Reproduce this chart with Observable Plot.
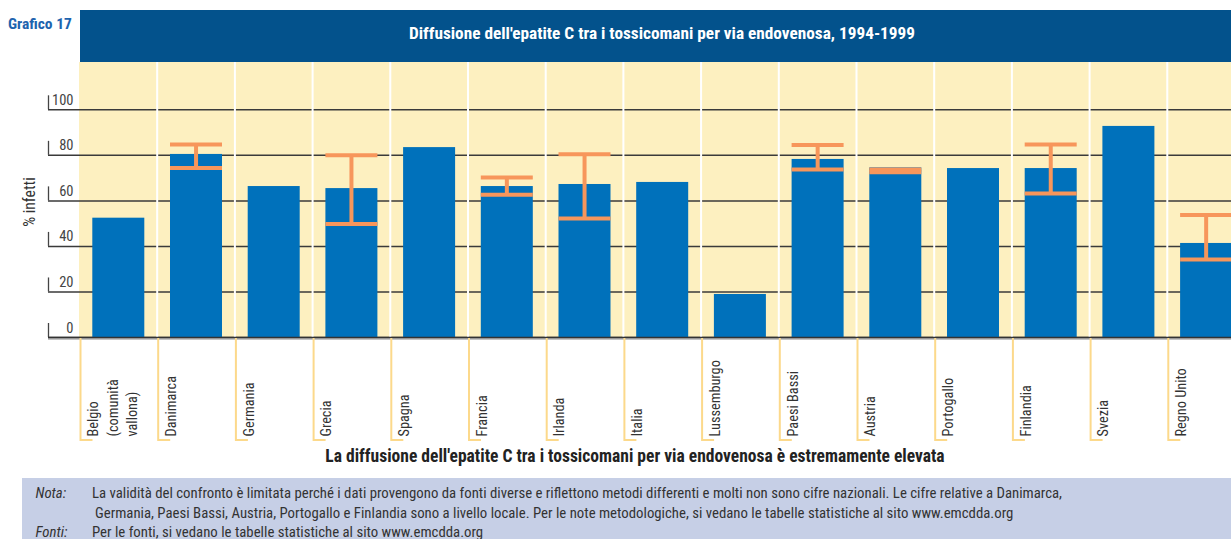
<!DOCTYPE html>
<html><head><meta charset="utf-8">
<script src="https://cdn.jsdelivr.net/npm/d3@7"></script>
<script src="https://cdn.jsdelivr.net/npm/@observablehq/plot@0.6"></script>
<style>
html,body{margin:0;padding:0;background:#fff;}
body{width:1231px;height:539px;overflow:hidden;position:relative;font-family:"Roboto Condensed","Liberation Sans",sans-serif;}
#tag{position:absolute;left:8px;top:15.5px;font-weight:bold;font-size:16px;line-height:16px;color:#1d63ae;white-space:nowrap;}
#band{position:absolute;left:80px;top:10px;width:1164px;height:52px;background:#03528c;color:#fff;font-weight:bold;text-align:center;line-height:47px;}
#band span{font-size:17px;white-space:nowrap;}
#chart{position:absolute;left:0;top:62px;}
#chart svg, #chart svg text{font-family:"Roboto Condensed","Liberation Sans",sans-serif !important;}
#ylab{position:absolute;left:30px;top:202px;transform:translate(-50%,-50%) rotate(-90deg);line-height:18px;color:#333;white-space:nowrap;}
#ylab span{font-size:16px;}
#xtitle{position:absolute;left:0;width:1270px;top:447px;text-align:center;font-weight:bold;line-height:18px;color:#222;}
#xtitle span{font-size:17px;white-space:nowrap;}
#note{position:absolute;left:22px;top:478px;width:1209px;height:61px;background:#c6cfe6;color:#333;padding-top:6px;box-sizing:border-box;font-size:15px;}
.row{position:relative;height:19.5px;line-height:19.5px;}
.lab{position:absolute;left:13.5px;font-style:italic;}
.txt{position:absolute;left:70px;white-space:nowrap;}
</style>
</head>
<body>
<div id="tag"><span id="tagt">Grafico 17</span></div>
<div id="band"><span id="titlet">Diffusione dell'epatite C tra i tossicomani per via endovenosa, 1994-1999</span></div>
<div id="chart"></div>
<div id="ylab"><span id="ylabt">% infetti</span></div>
<div id="xtitle"><span id="xtitlet">La diffusione dell'epatite C tra i tossicomani per via endovenosa è estremamente elevata</span></div>
<div id="note">
  <div class="row"><span class="lab">Nota:</span><span class="txt" id="note1">La validità del confronto è limitata perché i dati provengono da fonti diverse e riflettono metodi differenti e molti non sono cifre nazionali. Le cifre relative a Danimarca,</span></div>
  <div class="row"><span class="txt" style="left:73px">Germania, Paesi Bassi, Austria, Portogallo e Finlandia sono a livello locale. Per le note metodologiche, si vedano le tabelle statistiche al sito www.emcdda.org</span></div>
  <div class="row"><span class="lab">Fonti:</span><span class="txt">Per le fonti, si vedano le tabelle statistiche al sito www.emcdda.org</span></div>
</div>
<script>
const countries = ["Belgio (comunità vallona)", "Danimarca", "Germania", "Grecia", "Spagna", "Francia", "Irlanda", "Italia", "Lussemburgo", "Paesi Bassi", "Austria", "Portogallo", "Finlandia", "Svezia", "Regno Unito"];
const tickLabels = ["Belgio\n(comunità\nvallona)", "Danimarca", "Germania", "Grecia", "Spagna", "Francia", "Irlanda", "Italia", "Lussemburgo", "Paesi Bassi", "Austria", "Portogallo", "Finlandia", "Svezia", "Regno Unito"];
const prevalence = [52.4, 80.4, 66.3, 65.4, 83.4, 66.3, 67.2, 68.1, 18.9, 78.2, 74.5, 74.2, 74.2, 92.7, 41.3];
const rangeLow  = [null, 74.4, null, 49.8, null, 62.7, 52.3, null, null, 73.8, 72.6, null, 63.2, null, 34.3];
const rangeHigh = [null, 84.8, null, 80.0, null, 70.3, 80.5, null, null, 84.5, 73.8, null, 84.8, null, 53.8];
const yTicks = [0, 20, 40, 60, 80, 100];

// fit HTML text runs to the widths measured on the reference (layout width, unaffected by transforms)
function fitWidth(id, target) {
  const el = document.getElementById(id);
  const w = el.offsetWidth;
  const fs = parseFloat(getComputedStyle(el).fontSize);
  const nfs = fs * target / w;
  el.style.fontSize = nfs + "px";
  return nfs;
}
fitWidth("tagt", 64);
fitWidth("titlet", 506);
fitWidth("xtitlet", 620);
fitWidth("ylabt", 50);
const noteSize = fitWidth("note1", 970);
document.getElementById("note").style.fontSize = noteSize + "px";
document.getElementById("note1").style.fontSize = "";

const F = "Roboto Condensed, Liberation Sans, sans-serif";
const data = countries.map((c, i) => ({country: c, label: tickLabels[i], value: prevalence[i], low: rangeLow[i], high: rangeHigh[i]}));
const errs = data.filter(d => d.low != null);

const xRange = [79, 1244.5];
const bw = (xRange[1] - xRange[0]) / countries.length;
const orange = "#f7965b";
const barInL = 13.3, barInR = 12.4;

const yStubs = (index, scales, values, dims) => {
  const g = d3.create("svg:g").attr("stroke", "#444").attr("stroke-width", 1.3);
  for (const t of yTicks) {
    const y = scales.y(t);
    g.append("line").attr("x1", dims.marginLeft + 0.5).attr("x2", dims.marginLeft + 0.5).attr("y1", y).attr("y2", y - 14);
  }
  return g.node();
};
const xTicks = (index, scales, values, dims) => {
  const g = d3.create("svg:g").attr("stroke", "#fcd98b").attr("stroke-width", 2).attr("fill", "none");
  const y0 = scales.y(0) + 1;
  for (const c of countries) {
    const x = scales.x(c) + 1.5;
    g.append("path").attr("d", `M${x},${y0}V${y0 + 102}h12`);
  }
  return g.node();
};

const chart = Plot.plot({
  width: 1231, height: 380,
  marginLeft: 48, marginRight: 0, marginTop: 0, marginBottom: 105,
  x: {type: "band", domain: countries, range: xRange, padding: 0, round: false, axis: null},
  y: {domain: [0, 100], range: [275, 47.3], axis: null},
  style: {fontFamily: F, background: "transparent", overflow: "visible"},
  marks: [
    Plot.cell(data, {x: "country", fill: "#fdf0c0"}),
    Plot.ruleY(yTicks, {stroke: "#3a3a3a", strokeWidth: 1.5}),
    Plot.ruleX(countries.slice(1), {x: d => d, dx: -bw / 2, stroke: "#ffffff", strokeWidth: 2}),
    yStubs,
    Plot.text(yTicks, {y: d => d, text: d => String(d), frameAnchor: "left", textAnchor: "end", lineAnchor: "bottom", dx: 25, dy: -5, fontSize: 14.5, fill: "#444"}),
    Plot.barY(data, {x: "country", y: "value", fill: "#0071bb", insetLeft: barInL, insetRight: barInR}),
    Plot.ruleX(errs, {x: "country", y1: "low", y2: "high", stroke: orange, strokeWidth: 4}),
    Plot.tickY(errs, {x: "country", y: "low", stroke: orange, strokeWidth: 4, insetLeft: barInL, insetRight: barInR}),
    Plot.tickY(errs, {x: "country", y: "high", stroke: orange, strokeWidth: 4, insetLeft: barInL, insetRight: barInR}),
    Plot.ruleY([0], {stroke: "#b0b0b0", strokeWidth: 1.5, dy: 1.5}),
    Plot.ruleY([0], {stroke: "#333", strokeWidth: 1.5}),
    xTicks,
    Plot.text(data, {x: "country", text: "label", frameAnchor: "bottom", dy: 99, dx: -bw / 2 + 5, rotate: -90, textAnchor: "start", lineAnchor: "top", lineHeight: 1.35, fontSize: 14.3, fill: "#333"})
  ]
});
document.getElementById("chart").appendChild(chart);
</script>
</body></html>
